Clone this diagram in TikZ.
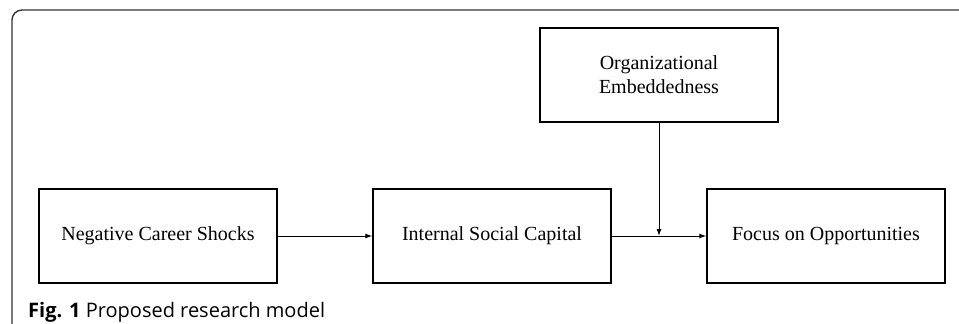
\documentclass[tikz,border=0pt]{standalone}
\usepackage{fontspec}
\setmainfont{Liberation Serif}
\newfontfamily\capfont{Open Sans}
\usetikzlibrary{arrows.meta}
\begin{document}
\begin{tikzpicture}[x=1pt, y=-1pt, >={Latex[length=7pt,width=5pt]},
  varbox/.style={draw, line width=1.4pt, minimum width=238pt, minimum height=94pt,
    inner sep=0pt, align=center, font=\fontsize{20}{24}\selectfont}]
\useasboundingbox (0,0) rectangle (959,324);
% frame
\draw[black!80, line width=1.4pt, rounded corners=10pt] (12,324) -- (12,10) -- (959,10);
% variables
\node[varbox] (shock) at (158,236) {Negative Career Shocks};
\node[varbox] (isc) at (492,236) {Internal Social Capital};
\node[varbox] (focus) at (826,236) {Focus on Opportunities};
\node[varbox] (embed) at (659,75) {Organizational\\Embeddedness};
\coordinate (mod) at (659,236);
% paths
\draw[->, line width=1pt] (shock) -- (isc);
\draw[->, line width=1pt] (isc) -- (focus);
\draw[->, line width=1pt] (embed) -- (mod);
% caption
\node[anchor=base west, inner sep=0pt, font=\capfont\fontsize{20}{24}\selectfont] (cap) at (28,317)
  {\textbf{Fig. 1} Proposed research model};
\end{tikzpicture}
\end{document}
